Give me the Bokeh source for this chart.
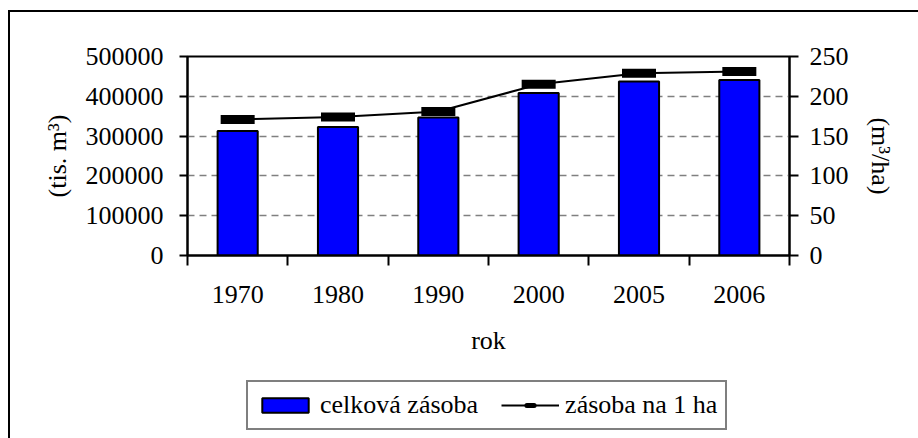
from bokeh.plotting import figure
from bokeh.layouts import column
from bokeh.models import (Range1d, LinearAxis, FixedTicker, BasicTickFormatter,
                          Legend, LegendItem, ColumnDataSource)
from bokeh.embed import file_html
from bokeh.resources import INLINE

# ---- data ----
years = ["1970", "1980", "1990", "2000", "2005", "2006"]
total_stock = [313000, 323000, 347000, 408000, 437000, 441000]   # tis. m3
stock_per_ha = [171, 174, 181, 215, 229, 231]                    # m3/ha
left_ticks = [0, 100000, 200000, 300000, 400000, 500000]
right_ticks = [0, 50, 100, 150, 200, 250]

x_pos = list(range(1, len(years) + 1))
boundaries = [i + 0.5 for i in range(len(years) + 1)]

src = ColumnDataSource(dict(x=x_pos, total=total_stock, perha=stock_per_ha))

FONT = "Liberation Serif"
FS = "26px"

# ---------------- main chart ----------------
p = figure(width=908, height=363, output_backend="svg", toolbar_location=None,
           x_range=Range1d(0.5, len(years) + 0.5), y_range=Range1d(0, 500000),
           min_border_left=177, min_border_right=129, min_border_top=44,
           min_border_bottom=120)
p.title.visible = False
p.extra_y_ranges = {"right": Range1d(0, 250)}

p.outline_line_color = "black"
p.outline_line_width = 2
p.background_fill_color = "white"
p.border_fill_color = "white"

p.xgrid.visible = False
p.ygrid.ticker = FixedTicker(ticks=left_ticks)
p.ygrid.grid_line_color = "#808080"
p.ygrid.grid_line_width = 1.5
p.ygrid.grid_line_dash = "7 5"

p.vbar(x="x", top="total", width=0.4, source=src,
       fill_color="#0000FF", line_color="black", line_width=2)
p.line(x="x", y="perha", source=src, y_range_name="right",
       line_color="black", line_width=2)
p.scatter(x="x", y="perha", source=src, y_range_name="right",
          marker="dash", size=34, line_width=9, line_color="black")

xa = p.xaxis[0]
xa.ticker = FixedTicker(ticks=x_pos, minor_ticks=boundaries)
xa.major_label_overrides = {x: y for x, y in zip(x_pos, years)}
xa.major_tick_in = 0
xa.major_tick_out = 0
xa.minor_tick_in = 0
xa.minor_tick_out = 10
xa.minor_tick_line_color = "black"
xa.minor_tick_line_width = 2
xa.axis_label = "rok"
xa.major_label_standoff = 20

ya = p.yaxis[0]
ya.ticker = FixedTicker(ticks=left_ticks)
ya.formatter = BasicTickFormatter(use_scientific=False)
ya.axis_label = "(tis. m³)"
ya.major_tick_in = 0
ya.major_tick_out = 8
ya.major_label_standoff = 16
ya.minor_tick_line_color = None

ra = LinearAxis(y_range_name="right", ticker=FixedTicker(ticks=right_ticks),
                axis_label="(m³/ha)")
ra.major_tick_in = 0
ra.major_tick_out = 9
ra.major_label_standoff = 11
ra.minor_tick_line_color = None
p.add_layout(ra, "right")

for ax in [xa, ya, ra]:
    ax.axis_line_color = "black"
    ax.axis_line_width = 2
    ax.major_tick_line_color = "black"
    ax.major_tick_line_width = 2
    ax.major_label_text_font = FONT
    ax.major_label_text_font_size = FS
    ax.major_label_text_color = "black"
    ax.axis_label_text_font = FONT
    ax.axis_label_text_font_size = FS
    ax.axis_label_text_font_style = "normal"
    ax.axis_label_text_color = "black"
xa.axis_label_standoff = 20
ya.axis_label_standoff = 11
ra.axis_label_standoff = 14

# ---------------- legend strip ----------------
q = figure(width=908, height=63, output_backend="svg", toolbar_location=None,
           x_range=Range1d(0.5, len(years) + 0.5), y_range=Range1d(0, 500000),
           x_axis_location=None, y_axis_location=None,
           min_border_left=0, min_border_right=0, min_border_top=0,
           min_border_bottom=0)
q.title.visible = False
q.extra_y_ranges = {"right": Range1d(0, 250)}
q.grid.visible = False
q.outline_line_color = None
q.background_fill_color = "white"
q.border_fill_color = "white"

lb = q.vbar(x="x", top="total", width=0.4, source=src,
            fill_color="#0000FF", line_color="black", line_width=2, visible=False)
ll = q.line(x="x", y="perha", source=src, y_range_name="right",
            line_color="black", line_width=2, visible=False)
lm = q.scatter(x="x", y="perha", source=src, y_range_name="right",
               marker="dash", size=34, line_width=5, line_cap="round",
               line_color="black", visible=False)

legend = Legend(items=[LegendItem(label="celková zásoba", renderers=[lb]),
                       LegendItem(label="zásoba na 1 ha", renderers=[ll, lm])],
                orientation="horizontal", location=(59, 8),
                label_text_font=FONT, label_text_font_size=FS,
                label_text_color="black",
                glyph_width=58, glyph_height=18, label_standoff=6, spacing=23,
                padding=8, margin=0, border_line_color="black",
                border_line_width=2, background_fill_alpha=1)
q.add_layout(legend, "center")

layout = column(p, q, spacing=0,
                styles={"margin-left": "8px", "margin-top": "10px",
                        "border-left": "2px solid black",
                        "border-top": "2px solid black"})

open("out.html", "w").write(file_html(layout, INLINE))
